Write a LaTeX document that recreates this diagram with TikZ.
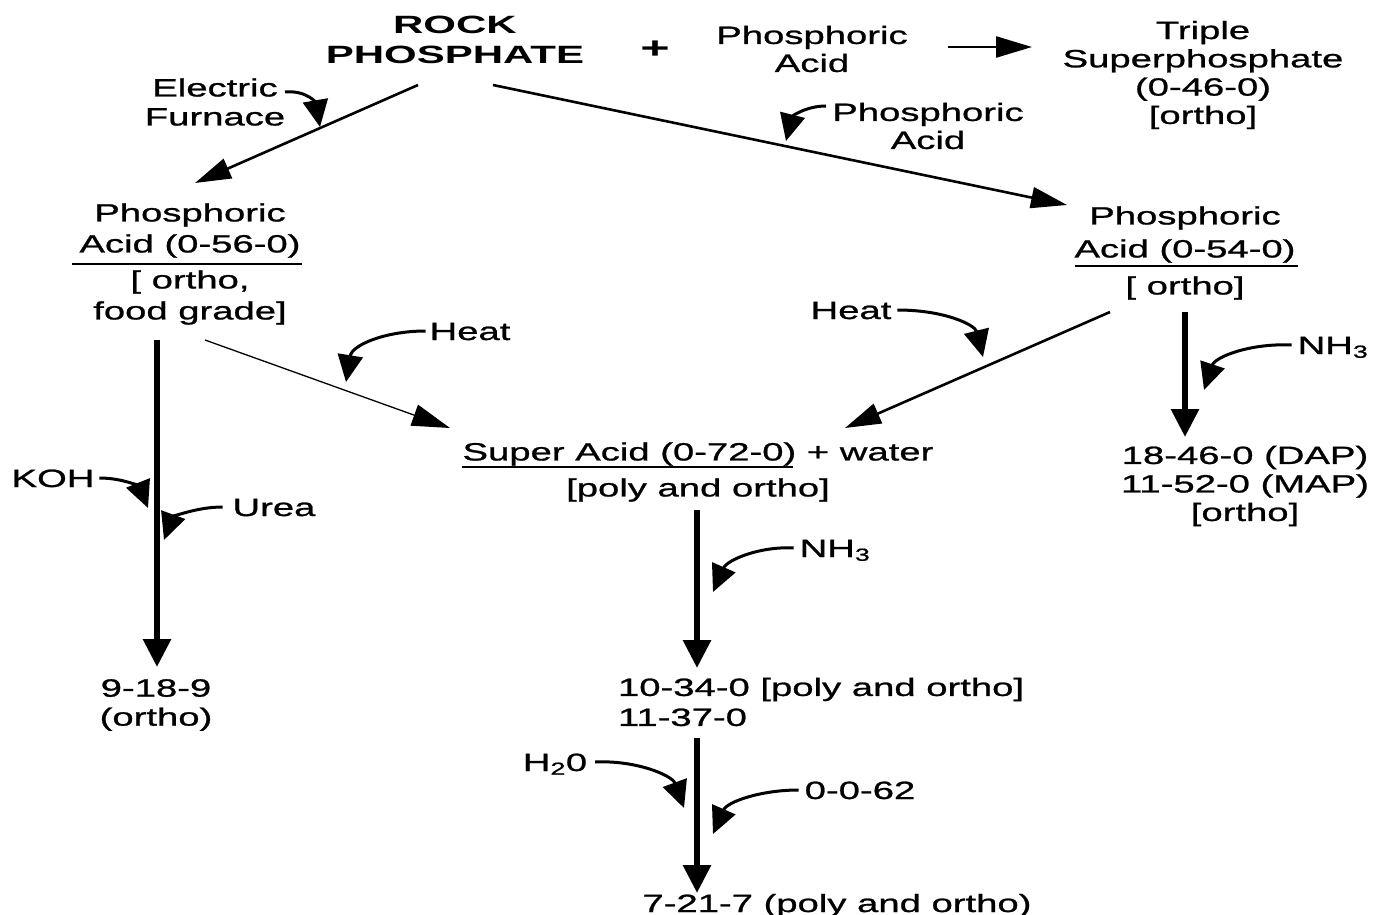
\documentclass[tikz,border=0pt]{standalone}
\usepackage{fontspec}
\setmainfont{Liberation Sans}[FakeStretch=1.53,FakeBold=1]
\newfontfamily\rockfont{Liberation Sans}[FakeStretch=1.68]
\usetikzlibrary{arrows.meta}
\begin{document}
\begin{tikzpicture}[x=1pt,y=-1pt,
  every node/.style={inner sep=0pt, outer sep=0pt},
  txt/.style={align=center, font=\fontsize{25}{30}\selectfont},
  lbl/.style={font=\fontsize{25}{30}\selectfont, text height=18pt, text depth=0pt},
  bigtxt/.style={align=center, font=\fontsize{25}{30}\rockfont\bfseries},
  thickarrow/.style={line width=6pt, -{Triangle[length=28pt,width=27pt]}},
  diag/.style={line width=2.6pt, -{Triangle[length=36pt,width=21pt]}},
  thindiag/.style={line width=1.3pt, -{Triangle[length=38pt,width=22pt]}},
  curly/.style={line width=3pt, -{Triangle[length=27pt,width=25pt]}},
  uline/.style={line width=2.2pt},
]
\fill[white] (0,0) rectangle (1374,915);
\useasboundingbox (0,0) rectangle (1374,915);

% main nodes
\node[bigtxt] (rp) at (455,40) {ROCK\\PHOSPHATE};
\node[lbl, font=\fontsize{30}{30}\rockfont\bfseries] (plus) at (655,50) {+};
\node[txt, font=\fontsize{25}{28}\selectfont] (pa1) at (812,49) {Phosphoric\\Acid};
\node[txt, font=\fontsize{25}{28.3}\selectfont] (tsp) at (1203,75) {Triple\\Superphosphate\\(0-46-0)\\{[ortho]}};
\node[txt, font=\fontsize{25}{29}\selectfont] (ef) at (215,102) {Electric\\Furnace};
\node[txt, font=\fontsize{25}{28}\selectfont] (cpa) at (928,126) {Phosphoric\\Acid};
\node[txt, font=\fontsize{25}{31}\selectfont] (lpa) at (190,264) {Phosphoric\\Acid (0-56-0)\\[5pt]{[} ortho,\\food grade]};
\node[txt, font=\fontsize{25}{33}\selectfont] (rpa) at (1185,253) {Phosphoric\\Acid (0-54-0)\\[4pt]{[} ortho]};
\node[txt, font=\fontsize{25}{36}\selectfont] (sa) at (698,472) {Super Acid (0-72-0) + water\\{[}poly and ortho]};
\node[txt, font=\fontsize{25}{28.5}\selectfont] (dap) at (1245,486) {18-46-0 (DAP)\\11-52-0 (MAP)\\{[}ortho]};
\node[txt, align=left, anchor=west] (tt) at (618,702) {10-34-0 [poly and ortho]\\11-37-0};
\node[lbl] (sst) at (837,903) {7-21-7 (poly and ortho)};
\node[txt, font=\fontsize{25}{29}\selectfont] (nine) at (156,705) {9-18-9\\(ortho)};

% reagent labels
\node[lbl] (heatL) at (470,331) {Heat};
\node[lbl] (heatR) at (851,310) {Heat};
\node[lbl] (koh) at (53,478) {KOH};
\node[lbl] (urea) at (274,507) {Urea};
\node[lbl] (nh3R) at (1333,345) {NH\textsubscript{3}};
\node[lbl] (nh3M) at (835,548) {NH\textsubscript{3}};
\node[lbl] (h2o) at (555,762) {H\textsubscript{2}0};
\node[lbl] (oos) at (860,790) {0-0-62};

% underlines
\draw[uline] (72,264) -- (302,264);
\draw[uline] (1075,266) -- (1298,266);
\draw[uline] (462,467) -- (793,467);

% connector end coordinates
\coordinate (rpL) at (418,85);
\coordinate (lpaT) at (195,183);
\coordinate (rpR) at (493,85);
\coordinate (rpaT) at (1067,205);
\coordinate (pa1E) at (948,47);
\coordinate (tspW) at (1032,47);
\coordinate (lpaD) at (205,340);
\coordinate (saL) at (450,428);
\coordinate (rpaD) at (1110,312);
\coordinate (saR) at (845,428);
\coordinate (lpaB) at (157,340);
\coordinate (nineT) at (157,667);
\coordinate (rpaB) at (1185,312);
\coordinate (dapT) at (1185,437);
\coordinate (saB) at (697,510);
\coordinate (ttT) at (697,668);
\coordinate (ttB) at (697,738);
\coordinate (sstT) at (697,893);

\draw[diag] (rpL) -- (lpaT);
\draw[diag] (rpR) -- (rpaT);
\draw[diag] (pa1E) -- (tspW);
\draw[thindiag] (lpaD) -- (saL);
\draw[diag] (rpaD) -- (saR);
\draw[thickarrow] (lpaB) -- (nineT);
\draw[thickarrow] (rpaB) -- (dapT);
\draw[thickarrow] (saB) -- (ttT);
\draw[thickarrow] (ttB) -- (sstT);

% curly reagent arrows
\coordinate (efS) at (285,92);
\coordinate (efT) at (320,127);
\coordinate (cpaS) at (826,106);
\coordinate (cpaT) at (786,141);
\draw[curly] (efS) .. controls (308,90) and (316,104) .. (efT);
\draw[curly] (cpaS) .. controls (805,106) and (792,117) .. (cpaT);
\draw[curly] ([xshift=-4pt]heatL.west) .. controls (385,331) and (352,345) .. (346,382);
\draw[curly] ([xshift=5pt]koh.east) .. controls (125,478) and (140,488) .. (148,508);
\draw[curly] ([xshift=-10pt]urea.west) .. controls (195,507) and (172,518) .. (164,540);
\draw[curly] ([xshift=6pt]heatR.east) .. controls (945,310) and (975,325) .. (983,357);
\draw[curly] ([xshift=-6pt]nh3R.west) .. controls (1250,343) and (1215,357) .. (1204,390);
\draw[curly] ([xshift=-6pt]nh3M.west) .. controls (760,546) and (727,560) .. (713,592);
\draw[curly] ([xshift=8pt]h2o.east) .. controls (635,760) and (672,775) .. (684,808);
\draw[curly] ([xshift=-6pt]oos.west) .. controls (760,790) and (727,802) .. (713,834);
\end{tikzpicture}
\end{document}
